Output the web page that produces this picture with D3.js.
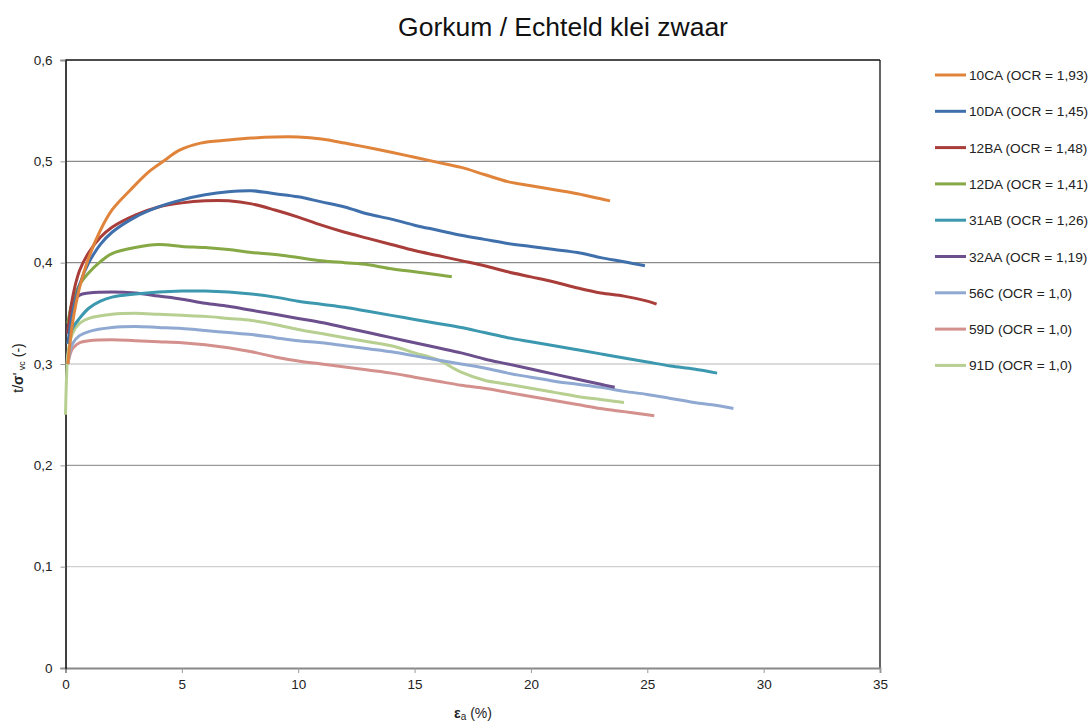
<!DOCTYPE html>
<html><head><meta charset="utf-8">
<script src="https://cdn.jsdelivr.net/npm/d3@7"></script>
<style>body{margin:0;background:#fff;font-family:"Liberation Sans",Arial,sans-serif;}</style>
</head><body><svg id="c" width="1090" height="722"></svg>
<script>
const title = "Gorkum / Echteld klei zwaar";
const xTicks = [0,5,10,15,20,25,30,35];
const yTicks = [0,0.1,0.2,0.3,0.4,0.5,0.6];
const seriesNames = ["10CA (OCR = 1,93)","10DA (OCR = 1,45)","12BA (OCR = 1,48)","12DA (OCR = 1,41)","31AB (OCR = 1,26)","32AA (OCR = 1,19)","56C (OCR = 1,0)","59D (OCR = 1,0)","91D (OCR = 1,0)"];
const s10CA = [[0.1,0.30],[0.3,0.34],[0.6,0.375],[1,0.405],[1.5,0.432],[2,0.452],[2.8,0.472],[3.6,0.49],[4.2,0.50],[4.9,0.511],[5.8,0.518],[7,0.521],[8,0.523],[9,0.524],[10,0.524],[11,0.522],[12,0.518],[12.7,0.515],[14,0.509],[15,0.504],[16,0.499],[17,0.494],[18,0.487],[19,0.480],[20,0.476],[21,0.472],[22,0.468],[23,0.463],[23.4,0.461]];
const s10DA = [[0.1,0.32],[0.3,0.35],[0.6,0.378],[1,0.40],[1.5,0.418],[2,0.43],[3,0.445],[4,0.455],[5,0.462],[6,0.467],[7,0.470],[8,0.471],[9,0.468],[10,0.465],[11,0.46],[12,0.455],[13,0.448],[14,0.443],[15,0.437],[16,0.432],[17,0.427],[18,0.423],[19,0.419],[20,0.416],[21,0.413],[22,0.410],[23,0.405],[24,0.401],[24.9,0.397]];
const s12BA = [[0.1,0.33],[0.3,0.365],[0.6,0.392],[1,0.41],[1.5,0.425],[2,0.435],[3,0.447],[4,0.455],[5,0.459],[6,0.461],[7,0.461],[8,0.458],[9,0.452],[10,0.445],[11,0.437],[12,0.430],[13,0.424],[14,0.418],[15,0.412],[16,0.407],[17,0.402],[18,0.397],[19,0.391],[20,0.386],[21,0.381],[22,0.375],[23,0.370],[24,0.367],[25,0.362],[25.4,0.359]];
const s12DA = [[0.1,0.34],[0.3,0.362],[0.6,0.378],[1,0.39],[1.5,0.401],[2,0.409],[3,0.415],[4,0.418],[5,0.416],[6,0.415],[7,0.413],[8,0.41],[9,0.408],[10,0.405],[11,0.402],[12,0.40],[13,0.398],[14,0.394],[15,0.391],[16,0.388],[16.6,0.386]];
const s31AB = [[0.1,0.32],[0.3,0.335],[0.6,0.345],[1,0.355],[1.5,0.362],[2,0.366],[3,0.369],[4,0.371],[5,0.372],[6,0.372],[7,0.371],[8,0.369],[9,0.366],[10,0.362],[11,0.359],[12,0.356],[13,0.352],[14,0.348],[15,0.344],[16,0.340],[17,0.336],[18,0.331],[19,0.326],[20,0.322],[21,0.318],[22,0.314],[23,0.310],[24,0.306],[25,0.302],[26,0.298],[27,0.295],[28,0.291]];
const s32AA = [[0.1,0.33],[0.3,0.36],[0.6,0.368],[1,0.37],[2,0.371],[3,0.37],[4,0.367],[5,0.364],[6,0.36],[7,0.357],[8,0.353],[9,0.349],[10,0.345],[11,0.341],[12,0.336],[13,0.331],[14,0.326],[15,0.321],[16,0.316],[17,0.311],[18,0.305],[19,0.300],[20,0.295],[21,0.290],[22,0.285],[23,0.280],[23.6,0.277]];
const s56C = [[0.1,0.30],[0.3,0.32],[0.6,0.328],[1,0.332],[2,0.336],[3,0.337],[4,0.336],[5,0.335],[6,0.333],[7,0.331],[8,0.329],[9,0.326],[10,0.323],[11,0.321],[12,0.318],[13,0.315],[14,0.312],[15,0.308],[16,0.304],[17,0.300],[18,0.296],[19,0.291],[20,0.287],[21,0.283],[22,0.280],[23,0.277],[24,0.273],[25,0.270],[26,0.266],[27,0.262],[28,0.259],[28.7,0.256]];
const s59D = [[0.1,0.30],[0.3,0.315],[0.6,0.321],[1,0.323],[2,0.324],[3,0.323],[4,0.322],[5,0.321],[6,0.319],[7,0.316],[8,0.312],[9,0.307],[10,0.303],[11,0.300],[12,0.297],[13,0.294],[14,0.291],[15,0.287],[16,0.283],[17,0.279],[18,0.276],[19,0.272],[20,0.268],[21,0.264],[22,0.260],[23,0.256],[24,0.253],[25,0.250],[25.3,0.249]];
const s91D = [[0,0.25],[0.05,0.29],[0.1,0.31],[0.3,0.33],[0.6,0.34],[1,0.345],[2,0.349],[3,0.35],[4,0.349],[5,0.348],[6,0.347],[7,0.345],[8,0.343],[9,0.339],[10,0.334],[11,0.330],[12,0.326],[13,0.322],[14,0.318],[15,0.311],[16,0.304],[17,0.292],[18,0.284],[19,0.280],[20,0.276],[21,0.272],[22,0.268],[23,0.265],[24,0.262]];
const seriesData = [s10CA,s10DA,s12BA,s12DA,s31AB,s32AA,s56C,s59D,s91D];
const colors = ["#E0843B","#4070AC","#A93D3A","#86A845","#3B98AF","#6C4F8D","#8FA9D2","#D4908D","#B7CF90"];

const svg = d3.select("#c");
const L=65.5, R=880, T=60, B=668;
const x = d3.scaleLinear().domain([0,35]).range([L,R]);
const y = d3.scaleLinear().domain([0,0.6]).range([B,T]);
const fmt = d => String(d).replace(".", ",");
const FF = "Liberation Sans, Arial, sans-serif";

// gridlines
const gridCol = {0.1:"#cfcfcf",0.2:"#9a9a9a",0.3:"#cfcfcf",0.4:"#8a8a8a",0.5:"#8a8a8a"};
svg.append("g").selectAll("line").data(yTicks.filter(d=>d>0&&d<0.6)).join("line")
  .attr("x1",L).attr("x2",R).attr("y1",d=>y(d)).attr("y2",d=>y(d))
  .attr("stroke",d=>gridCol[d]).attr("stroke-width",1.3);

// frame top/right
svg.append("line").attr("x1",L).attr("x2",R).attr("y1",T).attr("y2",T).attr("stroke","#111").attr("stroke-width",1.6);
svg.append("line").attr("x1",R).attr("x2",R).attr("y1",T).attr("y2",B).attr("stroke","#111").attr("stroke-width",1.3);

// axes
const xa = svg.append("g").attr("transform",`translate(0,${B})`)
  .call(d3.axisBottom(x).tickValues(xTicks).tickFormat(fmt).tickSize(5).tickPadding(6));
xa.select(".domain").attr("stroke","#888").attr("stroke-width",1.8);
xa.selectAll(".tick line").attr("stroke","#999");
xa.selectAll("text").attr("font-size",13.5).attr("fill","#222").attr("font-family",FF);

const ya = svg.append("g").attr("transform",`translate(${L},0)`)
  .call(d3.axisLeft(y).tickValues(yTicks).tickFormat(fmt).tickSize(5).tickPadding(8));
ya.select(".domain").attr("stroke","#111").attr("stroke-width",1.6);
ya.selectAll(".tick line").attr("stroke","#999");
ya.selectAll("text").attr("font-size",13.5).attr("fill","#222").attr("font-family",FF);

// lines
const line = d3.line().x(d=>x(d[0])).y(d=>y(d[1])).curve(d3.curveCatmullRom.alpha(0.5));
const order = [8,7,6,5,4,3,2,1,0];
svg.append("g").selectAll("path").data(order).join("path")
  .attr("d",i=>line(seriesData[i])).attr("fill","none")
  .attr("stroke",i=>colors[i]).attr("stroke-width",3).attr("stroke-linejoin","round");

// title
svg.append("text").attr("x",563).attr("y",36).attr("text-anchor","middle")
  .attr("font-size",26.5).attr("fill","#111").text(title);

// x label
const xl = svg.append("text").attr("x",473).attr("y",718).attr("text-anchor","middle").attr("font-size",14).attr("fill","#222");
xl.append("tspan").attr("font-weight","bold").text("ε");
xl.append("tspan").attr("font-size",10).attr("dy",2).text("a");
xl.append("tspan").attr("dy",-2).text(" (%)");

// y label
const yl = svg.append("text").attr("transform","translate(23,368) rotate(-90)").attr("text-anchor","middle").attr("font-size",14).attr("fill","#222");
yl.append("tspan").text("t/");
yl.append("tspan").attr("font-weight","bold").text("σ");
yl.append("tspan").text("'");
yl.append("tspan").attr("font-size",9).attr("dy",2).text(" vc");
yl.append("tspan").attr("dy",-2).text(" (-)");

// legend
const lg = svg.append("g").selectAll("g").data(seriesNames).join("g")
  .attr("transform",(d,i)=>`translate(935,${75+i*36.3})`);
lg.append("line").attr("x1",0).attr("x2",31).attr("stroke",(d,i)=>colors[i]).attr("stroke-width",3);
lg.append("text").attr("x",34).attr("y",5).attr("font-size",13.7).attr("fill","#222").text(d=>d);
</script></body></html>
